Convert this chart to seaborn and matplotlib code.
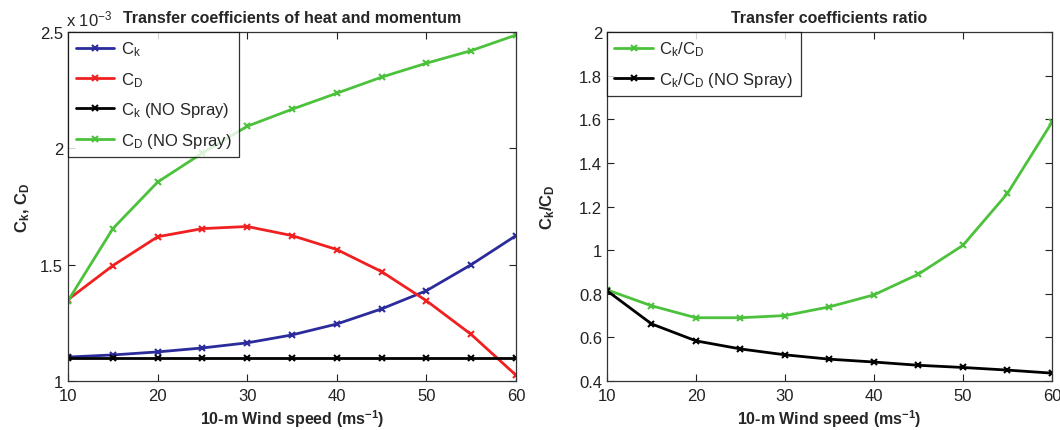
import numpy as np
import pandas as pd
import matplotlib
matplotlib.use("Agg")
import matplotlib.pyplot as plt
import seaborn as sns

# 10-m wind speed (m/s)
wind = [10, 15, 20, 25, 30, 35, 40, 45, 50, 55, 60]

# Transfer coefficients, in units of 1e-3
ck = [1.103, 1.112, 1.125, 1.142, 1.164, 1.198, 1.245, 1.31, 1.388, 1.50, 1.625]
cd = [1.35, 1.496, 1.62, 1.655, 1.664, 1.625, 1.565, 1.47, 1.345, 1.20, 1.025]
ck_nospray = [1.10, 1.10, 1.10, 1.10, 1.10, 1.10, 1.10, 1.10, 1.10, 1.10, 1.10]
cd_nospray = [1.345, 1.655, 1.855, 1.98, 2.095, 2.168, 2.237, 2.306, 2.366, 2.42, 2.487]

# Ratio Ck/CD
ratio = [0.818, 0.745, 0.69, 0.69, 0.70, 0.74, 0.795, 0.89, 1.022, 1.26, 1.586]
ratio_nospray = [0.814, 0.662, 0.584, 0.547, 0.52, 0.50, 0.487, 0.472, 0.462, 0.45, 0.436]

left_labels = ["C$_k$", "C$_D$", "C$_k$ (NO Spray)", "C$_D$ (NO Spray)"]
right_labels = ["C$_k$/C$_D$", "C$_k$/C$_D$ (NO Spray)"]

sns.set_style("ticks")
plt.rcParams["font.family"] = ["Liberation Sans", "DejaVu Sans"]
plt.rcParams["mathtext.fontset"] = "custom"
plt.rcParams["mathtext.rm"] = "Liberation Sans"
plt.rcParams["mathtext.it"] = "Liberation Sans"
plt.rcParams["mathtext.bf"] = "Liberation Sans:bold"
plt.rcParams["xtick.direction"] = "in"
plt.rcParams["ytick.direction"] = "in"
plt.rcParams["xtick.top"] = True
plt.rcParams["ytick.right"] = True

blue = "#2b2b9c"
red = "#f02020"
black = "#000000"
green = "#4cc23c"

fig = plt.figure(figsize=(10.6, 4.31), dpi=100)
ax1 = fig.add_axes([0.0642, 0.1137, 0.4226, 0.8097])
ax2 = fig.add_axes([0.5726, 0.1137, 0.4198, 0.8097])

left = pd.DataFrame({"wind": wind, left_labels[0]: ck, left_labels[1]: cd,
                     left_labels[2]: ck_nospray, left_labels[3]: cd_nospray})
for lab, col in zip(left_labels, [blue, red, black, green]):
    sns.lineplot(data=left, x="wind", y=lab, ax=ax1, color=col, lw=2,
                 marker="x", markersize=4, markeredgewidth=1.5,
                 markeredgecolor=col, label=lab)

right = pd.DataFrame({"wind": wind, right_labels[0]: ratio,
                      right_labels[1]: ratio_nospray})
for lab, col in zip(right_labels, [green, black]):
    sns.lineplot(data=right, x="wind", y=lab, ax=ax2, color=col, lw=2,
                 marker="x", markersize=4, markeredgewidth=1.5,
                 markeredgecolor=col, label=lab)

ax1.set_xlim(10, 60)
ax1.set_ylim(1, 2.5)
ax1.set_yticks([1, 1.5, 2, 2.5])
ax1.set_yticklabels(["1", "1.5", "2", "2.5"])
ax2.set_xlim(10, 60)
ax2.set_ylim(0.4, 2)
yt = [0.4, 0.6, 0.8, 1, 1.2, 1.4, 1.6, 1.8, 2]
ax2.set_yticks(yt)
ax2.set_yticklabels(["0.4", "0.6", "0.8", "1", "1.2", "1.4", "1.6", "1.8", "2"])

for ax in (ax1, ax2):
    ax.set_xticks([10, 20, 30, 40, 50, 60])
    ax.tick_params(labelsize=12, length=5, width=0.8, colors="#222222")
    ax.tick_params(axis="x", pad=5)
    for s in ax.spines.values():
        s.set_linewidth(0.9)
        s.set_color("#333333")
    ax.set_xlabel("10-m Wind speed (ms$^{\\mathbf{-1}}$)", fontsize=11.5,
                  fontweight="bold", labelpad=3)
    leg = ax.legend(loc="upper left", fontsize=12, frameon=True, fancybox=False,
                    borderaxespad=0, handlelength=2.3, handletextpad=0.4,
                    labelspacing=0.7, borderpad=0.45)
    leg.get_frame().set_edgecolor("black")
    leg.get_frame().set_linewidth(0.9)

ax1.set_ylabel("C$_{\\mathbf{k}}$, C$_{\\mathbf{D}}$", fontsize=12, fontweight="bold", labelpad=6)
ax2.set_ylabel("C$_{\\mathbf{k}}$/C$_{\\mathbf{D}}$", fontsize=12, fontweight="bold", labelpad=16)
ax1.set_title("Transfer coefficients of heat and momentum", fontsize=11.5,
              fontweight="bold", pad=7)
ax2.set_title("Transfer coefficients ratio", fontsize=11.5, fontweight="bold", pad=7)
ax1.text(-0.005, 1.01, "x 10$^{-3}$", transform=ax1.transAxes, fontsize=12,
         ha="left", va="bottom")

fig.savefig("out.png", dpi=100)
